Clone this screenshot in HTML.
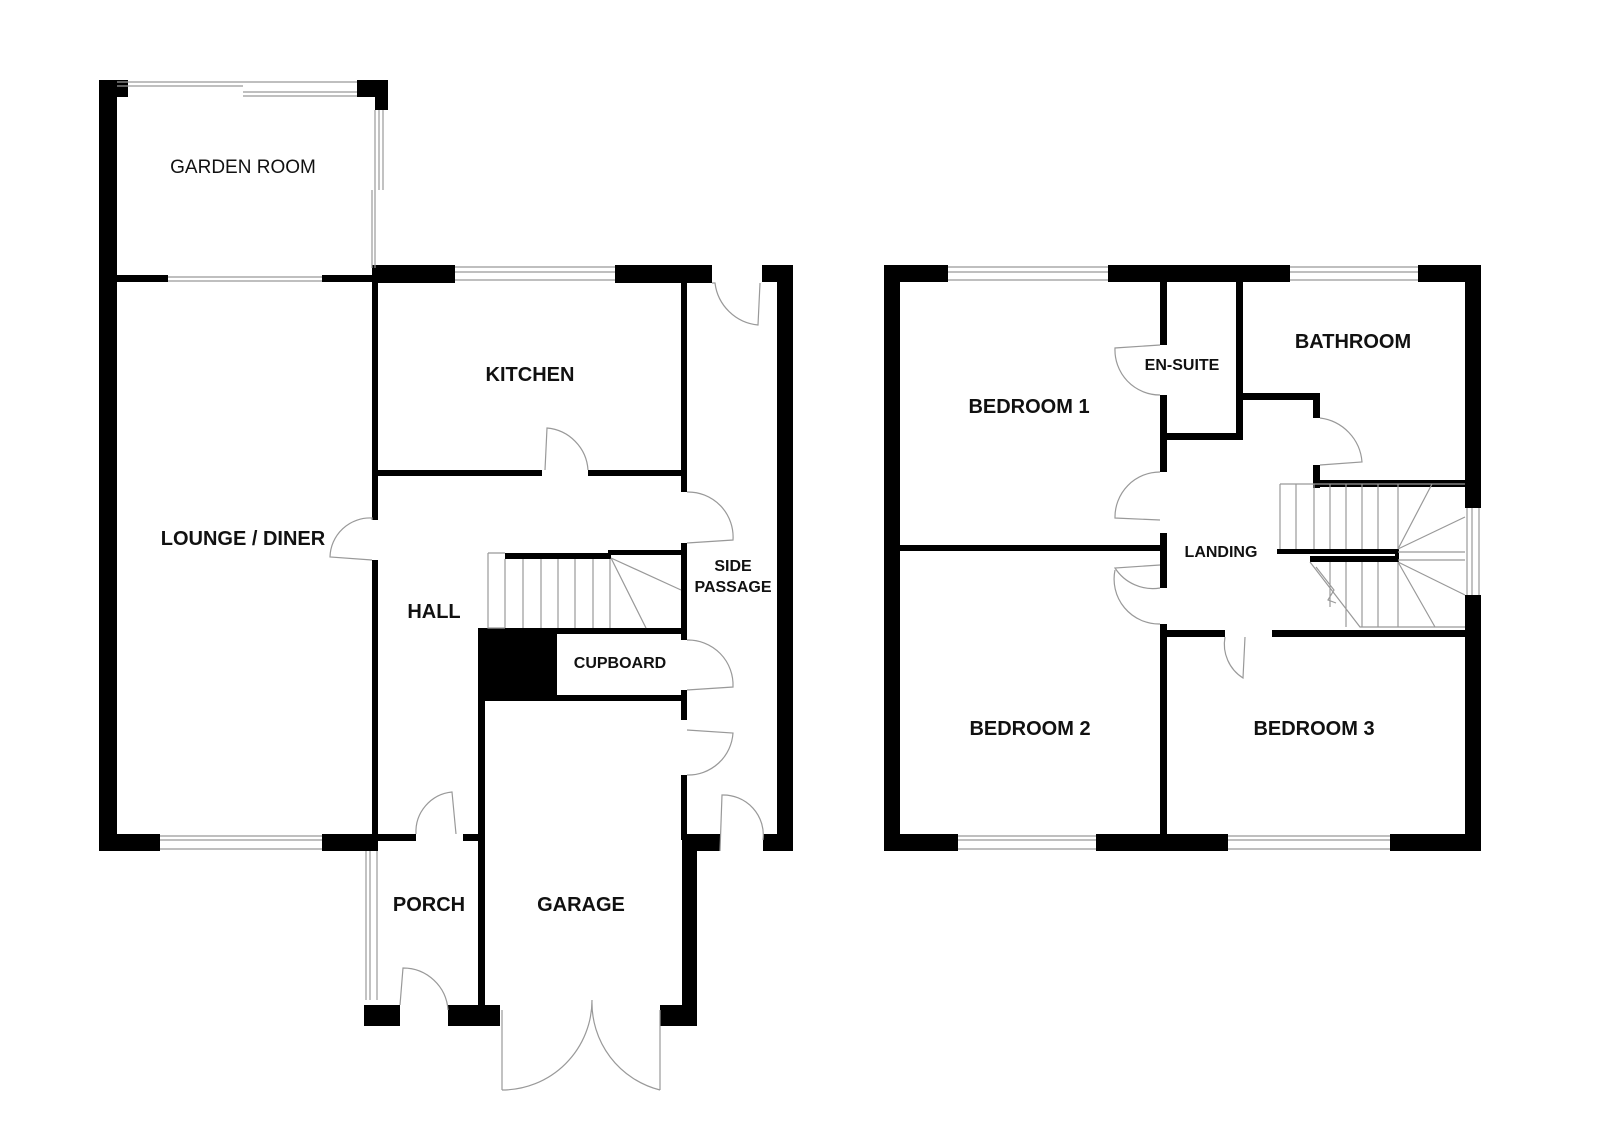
<!DOCTYPE html>
<html><head><meta charset="utf-8"><style>
html,body{margin:0;padding:0;background:#fff;}
svg{display:block}
text{font-family:"Liberation Sans",sans-serif;font-size:20px;font-weight:bold;fill:#111;text-anchor:middle;}
</style></head><body>
<svg width="1600" height="1137" viewBox="0 0 1600 1137" xmlns="http://www.w3.org/2000/svg">
<g fill="#000">
<rect x="99" y="80" width="18" height="771"/>
<rect x="99" y="80" width="29" height="17"/>
<rect x="357" y="80" width="31" height="17"/>
<rect x="375" y="80" width="13" height="30"/>
<rect x="117" y="275" width="51" height="7"/>
<rect x="322" y="275" width="55" height="7"/>
<rect x="372" y="265" width="83" height="18"/>
<rect x="615" y="265" width="97" height="18"/>
<rect x="762" y="265" width="31" height="17"/>
<rect x="777" y="265" width="16" height="586"/>
<rect x="372" y="282" width="6" height="238"/>
<rect x="372" y="560" width="6" height="280"/>
<rect x="681" y="282" width="6" height="210"/>
<rect x="681" y="543" width="6" height="97"/>
<rect x="681" y="690" width="6" height="30"/>
<rect x="681" y="775" width="6" height="65"/>
<rect x="378" y="470" width="164" height="6"/>
<rect x="588" y="470" width="93" height="6"/>
<rect x="505" y="553" width="106" height="6"/>
<rect x="608" y="550" width="73" height="5"/>
<rect x="478" y="628" width="203" height="6"/>
<rect x="478" y="630" width="79" height="68"/>
<rect x="478" y="695" width="203" height="6"/>
<rect x="478" y="698" width="7" height="312"/>
<rect x="99" y="834" width="61" height="17"/>
<rect x="322" y="834" width="56" height="17"/>
<rect x="372" y="834" width="44" height="7"/>
<rect x="463" y="834" width="15" height="7"/>
<rect x="364" y="1005" width="36" height="21"/>
<rect x="448" y="1005" width="52" height="21"/>
<rect x="682" y="834" width="15" height="192"/>
<rect x="660" y="1005" width="37" height="21"/>
<rect x="682" y="834" width="38" height="17"/>
<rect x="763" y="834" width="30" height="17"/>
<rect x="884" y="265" width="16" height="586"/>
<rect x="884" y="265" width="64" height="17"/>
<rect x="1108" y="265" width="182" height="17"/>
<rect x="1418" y="265" width="63" height="17"/>
<rect x="1465" y="265" width="16" height="243"/>
<rect x="1465" y="595" width="16" height="256"/>
<rect x="884" y="834" width="74" height="17"/>
<rect x="1096" y="834" width="132" height="17"/>
<rect x="1390" y="834" width="91" height="17"/>
<rect x="900" y="545" width="260" height="6"/>
<rect x="1160" y="282" width="7" height="63"/>
<rect x="1160" y="395" width="7" height="77"/>
<rect x="1160" y="533" width="7" height="55"/>
<rect x="1160" y="624" width="7" height="211"/>
<rect x="1236" y="282" width="7" height="158"/>
<rect x="1160" y="433" width="83" height="7"/>
<rect x="1243" y="393" width="77" height="7"/>
<rect x="1313" y="393" width="7" height="25"/>
<rect x="1313" y="465" width="7" height="23"/>
<rect x="1313" y="480" width="152" height="7"/>
<rect x="1160" y="630" width="65" height="7"/>
<rect x="1272" y="630" width="193" height="7"/>
<rect x="1277" y="549" width="121" height="5"/>
<rect x="1310" y="556" width="88" height="6"/>
<rect x="1395" y="549" width="4" height="13"/>
</g>
<g fill="none" stroke="#999" stroke-width="1.2">
<path d="M117 82H357M117 86H243M243 92H357M243 96H357"/>
<path d="M375 110V268M379 110V190M383 110V190M372 190V268"/>
<path d="M168 277H322M168 281H322"/>
<path d="M455 267H615M455 272H615M455 280H615"/>
<path d="M160 836H322M160 840H322M160 849H322"/>
<path d="M366 851V1000M370 851V1000M377 851V1000"/>
<path d="M948 267H1108M948 272H1108M948 280H1108"/>
<path d="M1290 267H1418M1290 272H1418M1290 280H1418"/>
<path d="M958 836H1096M958 840H1096M958 849H1096"/>
<path d="M1228 836H1390M1228 840H1390M1228 849H1390"/>
<path d="M1467 508V595M1472 508V595M1479 508V595"/>
<path d="M712 283L715 283A48 48 0 0 0 758 325L760 283"/>
<path d="M545 470L547 428A45 45 0 0 1 588 470"/>
<path d="M372 520L372 518A40 40 0 0 0 330 557L372 560"/>
<path d="M687 492A45 45 0 0 1 733 540L687 543"/>
<path d="M687 640A45 45 0 0 1 733 687L687 690"/>
<path d="M687 730L733 733A45 45 0 0 1 687 775"/>
<path d="M720 851L722 795A40 40 0 0 1 763 840"/>
<path d="M416 834A40 40 0 0 1 452 792L456 834"/>
<path d="M400 1005L403 968A45 45 0 0 1 448 1010"/>
<path d="M502 1010V1090M660 1010V1090M502 1090A90 90 0 0 0 592 1000M660 1090A90 90 0 0 1 592 1000"/>
<path d="M1160 345L1115 348A45 45 0 0 0 1160 395"/>
<path d="M1160 472A45 45 0 0 0 1115 518L1160 520"/>
<path d="M1160 588A45 45 0 0 1 1115 568L1160 565M1160 624A45 45 0 0 1 1115 570"/>
<path d="M1320 418A48 48 0 0 1 1362 462L1320 465"/>
<path d="M1225 637A40 40 0 0 0 1243 678L1245 637"/>
<path d="M488 553V628H505M488 553H505M505 559V628M523 559V628M541 559V628M558 559V628M575 559V628M593 559V628M610 559V628M611 558L681 590M611 558L646 628"/>
<path d="M1280 484H1465M1280 484V549M1296 484V549M1314 484V549M1330 484V549M1346 484V549M1362 484V549M1378 484V549M1398 484V549M1398 549L1432 484M1398 549L1465 517M1398 552H1465M1398 560H1465M1398 562L1465 595M1398 562L1435 627M1398 562V627M1378 562V627M1362 562V627M1346 562V627M1330 562V607M1310 562L1360 627H1465M1316 567L1334 590L1328 600L1336 603"/>
</g>
<text x="243" y="173" style="font-weight:normal;font-size:19px">GARDEN ROOM</text>
<text x="530" y="381">KITCHEN</text>
<text x="243" y="545">LOUNGE / DINER</text>
<text x="434" y="618">HALL</text>
<text x="733" y="571" style="font-size:16px">SIDE</text>
<text x="733" y="592" style="font-size:16px">PASSAGE</text>
<text x="620" y="668" style="font-size:16px">CUPBOARD</text>
<text x="429" y="911">PORCH</text>
<text x="581" y="911">GARAGE</text>
<text x="1353" y="348">BATHROOM</text>
<text x="1182" y="370" style="font-size:16px">EN-SUITE</text>
<text x="1029" y="413">BEDROOM 1</text>
<text x="1221" y="557" style="font-size:16px">LANDING</text>
<text x="1030" y="735">BEDROOM 2</text>
<text x="1314" y="735">BEDROOM 3</text>
</svg>
</body></html>
